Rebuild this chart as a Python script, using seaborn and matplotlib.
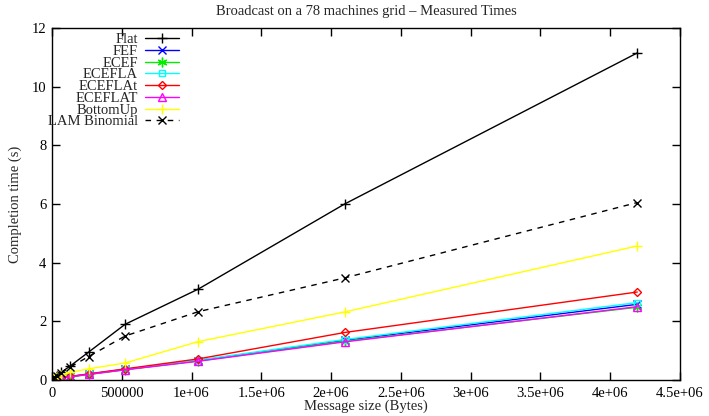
import matplotlib
matplotlib.use("Agg")
import matplotlib.pyplot as plt
import seaborn as sns
import pandas as pd

# Message sizes (bytes) and completion times (s) for each broadcast strategy
sizes = [1024, 2048, 4096, 8192, 16384, 32768, 65536, 131072, 262144,
         524288, 1048576, 2097152, 4194304]
flat = [0.03, 0.035, 0.04, 0.05, 0.08, 0.14, 0.26, 0.48, 0.95, 1.9, 3.1, 6.0, 11.15]
fef = [0.01, 0.012, 0.015, 0.02, 0.03, 0.05, 0.08, 0.12, 0.2, 0.36, 0.66, 1.35, 2.58]
ecef = [0.01, 0.012, 0.015, 0.02, 0.03, 0.05, 0.07, 0.11, 0.19, 0.35, 0.65, 1.32, 2.48]
ecefla = [0.01, 0.012, 0.015, 0.02, 0.03, 0.05, 0.08, 0.12, 0.2, 0.37, 0.68, 1.38, 2.64]
eceflat_lower = [0.01, 0.013, 0.016, 0.021, 0.032, 0.05, 0.08, 0.12, 0.21, 0.38, 0.72, 1.62, 3.0]
eceflat_upper = [0.01, 0.012, 0.015, 0.02, 0.03, 0.05, 0.07, 0.11, 0.19, 0.35, 0.64, 1.3, 2.5]
bottomup = [0.02, 0.025, 0.03, 0.04, 0.06, 0.1, 0.16, 0.26, 0.38, 0.58, 1.31, 2.32, 4.57]
lam = [0.04, 0.045, 0.05, 0.06, 0.09, 0.15, 0.25, 0.44, 0.8, 1.5, 2.33, 3.48, 6.05]

series_names = ["Flat", "FEF", "ECEF", "ECEFLA", "ECEFLAt", "ECEFLAT",
                "BottomUp", "LAM Binomial"]
series_values = [flat, fef, ecef, ecefla, eceflat_lower, eceflat_upper, bottomup, lam]

x_ticks = [0, 500000, 1000000, 1500000, 2000000, 2500000, 3000000,
           3500000, 4000000, 4500000]
x_tick_labels = ["0", "500000", "1e+06", "1.5e+06", "2e+06", "2.5e+06",
                 "3e+06", "3.5e+06", "4e+06", "4.5e+06"]
y_ticks = [0, 2, 4, 6, 8, 10, 12]

styles = {
    "Flat": dict(color="black", marker="+", ls="-", fill=True, ms=7),
    "FEF": dict(color="#0000ff", marker="x", ls="-", fill=True, ms=6),
    "ECEF": dict(color="#00ee00", marker=(6, 2, 0), ls="-", fill=True, ms=7),
    "ECEFLA": dict(color="#00ffff", marker="s", ls="-", fill=False, ms=5),
    "ECEFLAt": dict(color="#ff0000", marker="D", ls="-", fill=False, ms=4.5),
    "ECEFLAT": dict(color="#ff00ff", marker="^", ls="-", fill=False, ms=5.5),
    "BottomUp": dict(color="#ffff00", marker="+", ls="-", fill=True, ms=7),
    "LAM Binomial": dict(color="black", marker="x", ls=(0, (4, 4)), fill=True, ms=6),
}

df = pd.concat(
    [pd.DataFrame({"size": sizes, "time": vals, "series": name})
     for name, vals in zip(series_names, series_values)],
    ignore_index=True,
)

sns.set_theme(style="ticks")
plt.rcParams["font.family"] = ["Liberation Serif", "DejaVu Serif"]

fig = plt.figure(figsize=(7.09, 4.16), dpi=100)
ax = fig.add_axes([0.0733, 0.0865, 0.8857, 0.8462])

for name in series_names:
    st = styles[name]
    sub = df[df["series"] == name]
    kw = dict(markerfacecolor="none") if not st["fill"] else {}
    sns.lineplot(data=sub, x="size", y="time", ax=ax, color=st["color"],
                 marker=st["marker"], linestyle=st["ls"], linewidth=1.0,
                 markersize=st["ms"], markeredgewidth=1.0,
                 markeredgecolor=st["color"], label=name, **kw)

ax.set_xlim(0, 4500000)
ax.set_ylim(0, 12)
ax.set_xticks(x_ticks)
ax.set_xticklabels(x_tick_labels)
ax.set_yticks(y_ticks)
ax.set_yticklabels([str(v) for v in y_ticks])
ax.tick_params(direction="in", length=6, width=1, top=True, right=True,
               labelsize=10.5, colors="black")
ax.tick_params(axis="x", pad=5)
ax.tick_params(axis="y", pad=4)
for sp in ax.spines.values():
    sp.set_visible(True)
    sp.set_linewidth(1.0)
    sp.set_color("black")

ax.set_xlabel("Message size (Bytes)", fontsize=10.5, labelpad=0)
ax.set_ylabel("Completion time (s)", fontsize=10.5, labelpad=7)
ax.set_title("Broadcast on a 78 machines grid \u2013 Measured Times",
             fontsize=10.5, pad=9)

leg = ax.legend(loc="upper right", bbox_to_anchor=(179 / 709, 1 - 33 / 416),
                bbox_transform=fig.transFigure, frameon=False,
                markerfirst=False, fontsize=10.5, handlelength=2.3,
                handletextpad=0.5, labelspacing=-0.1, borderpad=0,
                borderaxespad=0)

fig.savefig("out.png", dpi=100)
